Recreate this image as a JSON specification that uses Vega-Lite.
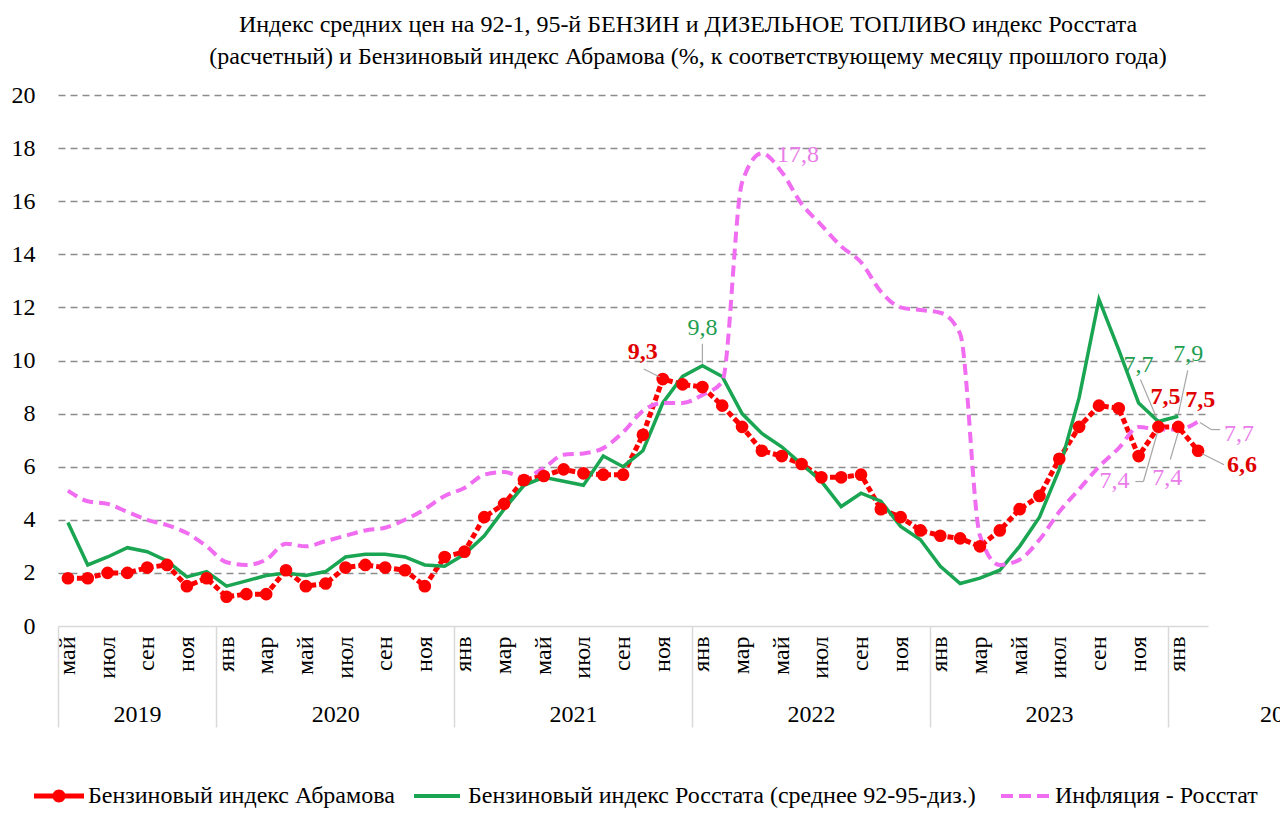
{
  "$schema": "https://vega.github.io/schema/vega-lite/v6.json",
  "width": 1150,
  "height": 531,
  "autosize": {"type": "none"},
  "padding": {"left": 58, "top": 95, "right": 72, "bottom": 209},
  "background": "white",
  "title": {
    "text": ["Индекс средних цен на 92-1, 95-й БЕНЗИН и ДИЗЕЛЬНОЕ ТОПЛИВО индекс Росстата", "(расчетный) и Бензиновый индекс Абрамова  (%, к соответствующему  месяцу  прошлого года)"],
    "fontSize": 24, "fontWeight": "normal", "color": "#000000",
    "anchor": "middle", "dx": 55, "offset": 14, "lineHeight": 32
  },
  "data": {"values": [
    {"m": "2019-05", "a": 1.8, "r": 3.9, "inf": 5.1},
    {"m": "2019-06", "a": 1.8, "r": 2.3, "inf": 4.7},
    {"m": "2019-07", "a": 2.0, "r": 2.6, "inf": 4.6},
    {"m": "2019-08", "a": 2.0, "r": 2.95, "inf": 4.3},
    {"m": "2019-09", "a": 2.2, "r": 2.8, "inf": 4.0},
    {"m": "2019-10", "a": 2.3, "r": 2.45, "inf": 3.8},
    {"m": "2019-11", "a": 1.5, "r": 1.85, "inf": 3.5},
    {"m": "2019-12", "a": 1.8, "r": 2.05, "inf": 3.0},
    {"m": "2020-01", "a": 1.1, "r": 1.5, "inf": 2.4},
    {"m": "2020-02", "a": 1.2, "r": 1.7, "inf": 2.3},
    {"m": "2020-03", "a": 1.2, "r": 1.9, "inf": 2.5},
    {"m": "2020-04", "a": 2.1, "r": 2.0, "inf": 3.1},
    {"m": "2020-05", "a": 1.5, "r": 1.9, "inf": 3.0},
    {"m": "2020-06", "a": 1.6, "r": 2.05, "inf": 3.2},
    {"m": "2020-07", "a": 2.2, "r": 2.6, "inf": 3.4},
    {"m": "2020-08", "a": 2.3, "r": 2.7, "inf": 3.6},
    {"m": "2020-09", "a": 2.2, "r": 2.7, "inf": 3.7},
    {"m": "2020-10", "a": 2.1, "r": 2.6, "inf": 4.0},
    {"m": "2020-11", "a": 1.5, "r": 2.3, "inf": 4.4},
    {"m": "2020-12", "a": 2.6, "r": 2.25, "inf": 4.9},
    {"m": "2021-01", "a": 2.8, "r": 2.7, "inf": 5.2},
    {"m": "2021-02", "a": 4.1, "r": 3.4, "inf": 5.7},
    {"m": "2021-03", "a": 4.6, "r": 4.4, "inf": 5.8},
    {"m": "2021-04", "a": 5.5, "r": 5.3, "inf": 5.6},
    {"m": "2021-05", "a": 5.65, "r": 5.6, "inf": 5.95},
    {"m": "2021-06", "a": 5.9, "r": 5.45, "inf": 6.45},
    {"m": "2021-07", "a": 5.75, "r": 5.3, "inf": 6.5},
    {"m": "2021-08", "a": 5.7, "r": 6.4, "inf": 6.7},
    {"m": "2021-09", "a": 5.7, "r": 6.0, "inf": 7.3},
    {"m": "2021-10", "a": 7.2, "r": 6.6, "inf": 8.1},
    {"m": "2021-11", "a": 9.3, "r": 8.4, "inf": 8.4},
    {"m": "2021-12", "a": 9.1, "r": 9.4, "inf": 8.4},
    {"m": "2022-01", "a": 9.0, "r": 9.8, "inf": 8.7},
    {"m": "2022-02", "a": 8.3, "r": 9.4, "inf": 9.2},
    {"m": "2022-03", "a": 7.5, "r": 8.0, "inf": 16.7},
    {"m": "2022-04", "a": 6.6, "r": 7.25, "inf": 17.8},
    {"m": "2022-05", "a": 6.4, "r": 6.75, "inf": 17.1},
    {"m": "2022-06", "a": 6.1, "r": 6.1, "inf": 15.9},
    {"m": "2022-07", "a": 5.6, "r": 5.45, "inf": 15.1},
    {"m": "2022-08", "a": 5.6, "r": 4.5, "inf": 14.3},
    {"m": "2022-09", "a": 5.7, "r": 5.0, "inf": 13.7},
    {"m": "2022-10", "a": 4.4, "r": 4.7, "inf": 12.6},
    {"m": "2022-11", "a": 4.1, "r": 3.75, "inf": 12.0},
    {"m": "2022-12", "a": 3.6, "r": 3.25, "inf": 11.9},
    {"m": "2023-01", "a": 3.4, "r": 2.25, "inf": 11.8},
    {"m": "2023-02", "a": 3.3, "r": 1.6, "inf": 11.0},
    {"m": "2023-03", "a": 3.0, "r": 1.8, "inf": 3.4},
    {"m": "2023-04", "a": 3.6, "r": 2.1, "inf": 2.3},
    {"m": "2023-05", "a": 4.4, "r": 3.0, "inf": 2.5},
    {"m": "2023-06", "a": 4.9, "r": 4.1, "inf": 3.25},
    {"m": "2023-07", "a": 6.3, "r": 5.9, "inf": 4.3},
    {"m": "2023-08", "a": 7.5, "r": 8.6, "inf": 5.15},
    {"m": "2023-09", "a": 8.3, "r": 12.3, "inf": 6.0},
    {"m": "2023-10", "a": 8.2, "r": 10.4, "inf": 6.7},
    {"m": "2023-11", "a": 6.4, "r": 8.4, "inf": 7.5},
    {"m": "2023-12", "a": 7.5, "r": 7.7, "inf": 7.4},
    {"m": "2024-01", "a": 7.5, "r": 7.9, "inf": 7.4},
    {"m": "2024-02", "a": 6.6, "r": null, "inf": 7.7}
  ]},
  "transform": [{"fold": ["a", "r", "inf"], "as": ["key", "v"]}],
  "encoding": {
    "x": {"field": "m", "type": "ordinal", "sort": null, "scale": {"type": "band", "paddingInner": 0, "paddingOuter": 0}, "axis": null},
    "y": {"field": "v", "type": "quantitative", "scale": {"domain": [0, 20], "nice": false},
      "axis": {"values": [0,2,4,6,8,10,12,14,16,18,20], "title": null, "domain": false, "ticks": false,
        "labelFontSize": 24, "labelColor": "#000000", "labelPadding": 23,
        "grid": true, "gridColor": "#8c8c8c", "gridDash": [7, 5], "gridWidth": 1.3,
        "gridOpacity": {"condition": {"test": "datum.value === 0", "value": 0}, "value": 1}}}
  },
  "layer": [
    {
      "transform": [{"filter": "datum.key === 'a'"}],
      "mark": {"type": "line", "color": "#ff0000", "strokeWidth": 5, "strokeDash": [6, 3]},
      "encoding": {
        "x": {"field": "m", "type": "ordinal", "sort": null, "scale": {"type": "band", "paddingInner": 0, "paddingOuter": 0},
          "axis": {"orient": "bottom", "values": ["2019-05","2019-07","2019-09","2019-11","2020-01","2020-03","2020-05","2020-07","2020-09","2020-11","2021-01","2021-03","2021-05","2021-07","2021-09","2021-11","2022-01","2022-03","2022-05","2022-07","2022-09","2022-11","2023-01","2023-03","2023-05","2023-07","2023-09","2023-11","2024-01"],
            "labelExpr": "['янв','фев','мар','апр','май','июн','июл','авг','сен','окт','ноя','дек'][toNumber(substring(datum.value,5,7))-1]",
            "labelAngle": -90, "labelFontSize": 24, "labelColor": "#000000", "labelPadding": 10,
            "ticks": false, "domain": true, "domainColor": "#d9d9d9", "domainWidth": 1.5, "grid": false, "title": null,
            "labelOverlap": false, "labelBound": false, "labelFlush": false}}
      }
    },
    {
      "transform": [{"filter": "datum.key === 'r'"}],
      "mark": {"type": "line", "color": "#1aa552", "strokeWidth": 3.5},
      "encoding": {
        "x": {"field": "m", "type": "ordinal", "sort": null, "scale": {"type": "band", "paddingInner": 0, "paddingOuter": 0},
          "axis": {"orient": "bottom", "values": ["2019-05","2020-01","2021-01","2022-01","2023-01","2024-01"], "bandPosition": 0,
            "labels": false, "domain": false, "ticks": true, "tickSize": 101, "tickColor": "#d9d9d9", "tickWidth": 1.5, "grid": false, "title": null}}
      }
    },
    {
      "transform": [{"filter": "datum.key === 'inf'"}],
      "mark": {"type": "line", "color": "#f06cf0", "strokeWidth": 4, "strokeDash": [11, 6], "interpolate": "monotone"},
      "encoding": {
        "x": {"field": "m", "type": "ordinal", "sort": null, "scale": {"type": "band", "paddingInner": 0, "paddingOuter": 0},
          "axis": {"orient": "bottom", "values": ["2019-08","2020-06","2021-06","2022-06","2023-06","2024-02"],
            "labelExpr": "substring(datum.value,0,4)", "labelAngle": 0, "labelPadding": 76, "labelFontSize": 24,
            "labelOffset": {"condition": {"test": "datum.value === '2024-02'", "value": 86}, "value": 10},
            "labelColor": "#000000", "ticks": false, "domain": false, "grid": false, "title": null,
            "labelOverlap": false, "labelBound": false, "labelFlush": false}}
      }
    },
    {
      "transform": [{"filter": "datum.key === 'a'"}],
      "mark": {"type": "circle", "size": 160, "color": "#ff0000", "opacity": 1}
    },
    {
      "mark": {"type": "point", "filled": true, "opacity": 0},
      "encoding": {
        "color": {"field": "key", "type": "nominal",
          "scale": {"domain": ["a", "r", "inf"], "range": ["#ff0000", "#1aa552", "#f06cf0"]},
          "legend": {"orient": "none", "legendX": -24, "legendY": 676, "direction": "horizontal", "title": null, "padding": 0,
            "symbolSize": 2500, "symbolStrokeWidth": 0, "labelOffset": 4, "columnPadding": 19,
            "labelFontSize": 24, "labelColor": "#000000", "labelLimit": 0,
            "labelExpr": "datum.value === 'a' ? 'Бензиновый индекс Абрамова' : datum.value === 'r' ? 'Бензиновый индекс Росстата  (среднее 92-95-диз.)' : 'Инфляция - Росстат'",
            "encode": {"symbols": {"update": {"opacity": {"value": 1}}}}}},
        "shape": {"field": "key", "type": "nominal",
          "scale": {"domain": ["a", "r", "inf"], "range": [
            "M-1,-0.1H1V0.1H-1Z M-0.26,0A0.26,0.26,0,1,1,0.26,0A0.26,0.26,0,1,1,-0.26,0Z",
            "M-1,-0.08H0.84V0.08H-1Z",
            "M-1,-0.08H-0.52V0.08H-1Z M-0.28,-0.08H0.2V0.08H-0.28Z M0.44,-0.08H0.92V0.08H0.44Z"]},
          "legend": {"orient": "none", "legendX": -24, "legendY": 676, "direction": "horizontal", "title": null, "padding": 0,
            "symbolSize": 2500, "symbolStrokeWidth": 0, "labelOffset": 4, "columnPadding": 19,
            "labelFontSize": 24, "labelColor": "#000000", "labelLimit": 0,
            "labelExpr": "datum.value === 'a' ? 'Бензиновый индекс Абрамова' : datum.value === 'r' ? 'Бензиновый индекс Росстата  (среднее 92-95-диз.)' : 'Инфляция - Росстат'",
            "encode": {"symbols": {"update": {"opacity": {"value": 1}}}}}}
      }
    },
    {
      "transform": [{"filter": "datum.key === 'a' && datum.m === '2021-11'"}],
      "layer": [
        {"mark": {"type": "rule", "color": "#a6a6a6", "strokeWidth": 1.2, "xOffset": -3, "yOffset": -2, "x2Offset": -19, "y2Offset": -10},
         "encoding": {"x2": {"field": "m"}, "y2": {"field": "v"}}},
        {"mark": {"type": "text", "dx": -20, "dy": -27, "fontSize": 24, "fontWeight": "bold", "color": "#e00000"},
         "encoding": {"text": {"field": "v", "type": "quantitative", "format": ".1f"}}}
      ]
    },
    {
      "transform": [{"filter": "datum.key === 'r' && datum.m === '2022-01'"}],
      "layer": [
        {"mark": {"type": "rule", "color": "#a6a6a6", "strokeWidth": 1.2, "xOffset": 0, "yOffset": -2, "x2Offset": 0, "y2Offset": -22},
         "encoding": {"x2": {"field": "m"}, "y2": {"field": "v"}}},
        {"mark": {"type": "text", "dx": 0, "dy": -38, "fontSize": 24, "color": "#1e9e50"},
         "encoding": {"text": {"field": "v", "type": "quantitative", "format": ".1f"}}}
      ]
    },
    {
      "transform": [{"filter": "datum.key === 'inf' && datum.m === '2022-04'"}],
      "mark": {"type": "text", "dx": 36, "dy": 2, "fontSize": 24, "color": "#ea7dea"},
      "encoding": {"text": {"field": "v", "type": "quantitative", "format": ".1f"}}
    },
    {
      "transform": [{"filter": "datum.key === 'r' && datum.m === '2023-12'"}],
      "layer": [
        {"mark": {"type": "rule", "color": "#a6a6a6", "strokeWidth": 1.2, "xOffset": -2, "yOffset": -4, "x2Offset": -18, "y2Offset": -42},
         "encoding": {"x2": {"field": "m"}, "y2": {"field": "v"}}},
        {"mark": {"type": "text", "dx": -20, "dy": -57, "fontSize": 24, "color": "#1e9e50"},
         "encoding": {"text": {"field": "v", "type": "quantitative", "format": ".1f"}}}
      ]
    },
    {
      "transform": [{"filter": "datum.key === 'r' && datum.m === '2024-01'"}],
      "layer": [
        {"mark": {"type": "rule", "color": "#a6a6a6", "strokeWidth": 1.2, "xOffset": 0, "yOffset": -2, "x2Offset": 9.5, "y2Offset": -46},
         "encoding": {"x2": {"field": "m"}, "y2": {"field": "v"}}},
        {"mark": {"type": "text", "dx": 10, "dy": -62, "fontSize": 24, "color": "#1e9e50"},
         "encoding": {"text": {"field": "v", "type": "quantitative", "format": ".1f"}}}
      ]
    },
    {
      "transform": [{"filter": "datum.key === 'a' && datum.m === '2023-12'"}],
      "mark": {"type": "text", "dx": 7, "dy": -30, "fontSize": 24, "fontWeight": "bold", "color": "#e00000"},
      "encoding": {"text": {"field": "v", "type": "quantitative", "format": ".1f"}}
    },
    {
      "transform": [{"filter": "datum.key === 'a' && datum.m === '2024-01'"}],
      "mark": {"type": "text", "dx": 22, "dy": -27, "fontSize": 24, "fontWeight": "bold", "color": "#e00000"},
      "encoding": {"text": {"field": "v", "type": "quantitative", "format": ".1f"}}
    },
    {
      "transform": [{"filter": "datum.key === 'a' && datum.m === '2024-02'"}],
      "layer": [
        {"mark": {"type": "rule", "color": "#a6a6a6", "strokeWidth": 1.2, "xOffset": 4, "yOffset": 3, "x2Offset": 26, "y2Offset": 14},
         "encoding": {"x2": {"field": "m"}, "y2": {"field": "v"}}},
        {"mark": {"type": "text", "dx": 44, "dy": 14, "fontSize": 24, "fontWeight": "bold", "color": "#e00000"},
         "encoding": {"text": {"field": "v", "type": "quantitative", "format": ".1f"}}}
      ]
    },
    {
      "transform": [{"filter": "datum.key === 'inf' && datum.m === '2023-12'"}],
      "layer": [
        {"mark": {"type": "rule", "color": "#a6a6a6", "strokeWidth": 1.2, "xOffset": -1, "yOffset": 3, "x2Offset": -15, "y2Offset": 52},
         "encoding": {"x2": {"field": "m"}, "y2": {"field": "v"}}},
        {"mark": {"type": "rule", "color": "#a6a6a6", "strokeWidth": 1.2, "xOffset": -15, "yOffset": 52, "x2Offset": -23, "y2Offset": 52},
         "encoding": {"x2": {"field": "m"}, "y2": {"field": "v"}}},
        {"mark": {"type": "text", "dx": -44, "dy": 51, "fontSize": 24, "color": "#ea7dea"},
         "encoding": {"text": {"field": "v", "type": "quantitative", "format": ".1f"}}}
      ]
    },
    {
      "transform": [{"filter": "datum.key === 'inf' && datum.m === '2024-01'"}],
      "layer": [
        {"mark": {"type": "rule", "color": "#a6a6a6", "strokeWidth": 1.2, "xOffset": 0, "yOffset": 3, "x2Offset": -8, "y2Offset": 30},
         "encoding": {"x2": {"field": "m"}, "y2": {"field": "v"}}},
        {"mark": {"type": "text", "dx": -11, "dy": 48, "fontSize": 24, "color": "#ea7dea"},
         "encoding": {"text": {"field": "v", "type": "quantitative", "format": ".1f"}}}
      ]
    },
    {
      "transform": [{"filter": "datum.key === 'inf' && datum.m === '2024-02'"}],
      "layer": [
        {"mark": {"type": "rule", "color": "#a6a6a6", "strokeWidth": 1.2, "xOffset": 2, "yOffset": 1, "x2Offset": 13, "y2Offset": 8},
         "encoding": {"x2": {"field": "m"}, "y2": {"field": "v"}}},
        {"mark": {"type": "rule", "color": "#a6a6a6", "strokeWidth": 1.2, "xOffset": 13, "yOffset": 8, "x2Offset": 22, "y2Offset": 8},
         "encoding": {"x2": {"field": "m"}, "y2": {"field": "v"}}},
        {"mark": {"type": "text", "dx": 41, "dy": 12, "fontSize": 24, "color": "#ea7dea"},
         "encoding": {"text": {"field": "v", "type": "quantitative", "format": ".1f"}}}
      ]
    }
  ],
  "resolve": {"axis": {"x": "independent"}},
  "config": {
    "view": {"stroke": null},
    "font": "Liberation Serif",
    "locale": {"number": {"decimal": ",", "thousands": " ", "grouping": [3], "currency": ["", " ₽"]}}
  }
}
